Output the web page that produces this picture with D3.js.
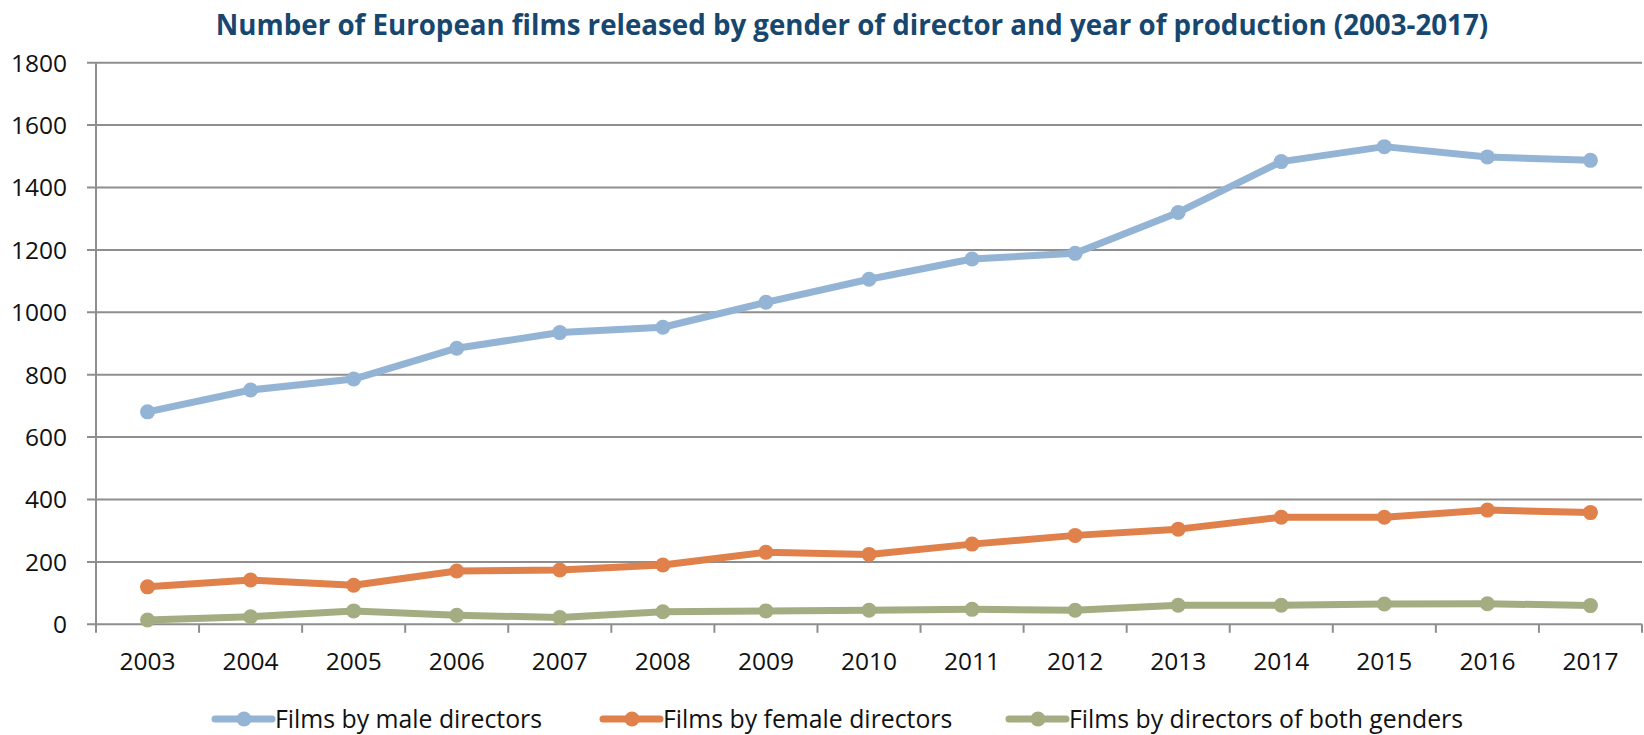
<!DOCTYPE html>
<html>
<head>
<meta charset="utf-8">
<script src="https://cdn.jsdelivr.net/npm/d3@7"></script>
<style>
  html, body { margin: 0; padding: 0; background: #fff; }
  svg { display: block; font-family: "Open Sans", "Noto Sans", sans-serif; }
</style>
</head>
<body>
<svg id="chart" width="1644" height="735"></svg>
<script>
const years = ["2003","2004","2005","2006","2007","2008","2009","2010","2011","2012","2013","2014","2015","2016","2017"];
const maleFilms   = [681, 751, 786, 885, 935, 952, 1032, 1106, 1171, 1189, 1320, 1483, 1531, 1498, 1487];
const femaleFilms = [120, 142, 125, 171, 174, 190, 231, 224, 257, 285, 305, 343, 343, 366, 358];
const bothFilms   = [14, 24, 43, 29, 22, 40, 43, 45, 48, 45, 61, 61, 65, 66, 60];
const yTicks = [0, 200, 400, 600, 800, 1000, 1200, 1400, 1600, 1800];
const seriesNames = ["Films by male directors", "Films by female directors", "Films by directors of both genders"];
const seriesColors = ["#94B4D5", "#E0804A", "#A4AC81"];
const titleText = "Number of European films released by gender of director and year of production (2003-2017)";

(function () {
const series = [maleFilms, femaleFilms, bothFilms].map((vals, i) => ({
  name: seriesNames[i], color: seriesColors[i], values: vals
}));

const svg = d3.select("#chart");
const pLeft = 96, pRight = 1642, pTop = 62.7, pBottom = 624.3;
const gridColor = "#8E8E8E";

const x = d3.scaleBand().domain(years).range([pLeft, pRight]).paddingInner(0).paddingOuter(0);
const y = d3.scaleLinear().domain([0, 1800]).range([pBottom, pTop]);

// Title
const title = svg.append("text")
  .attr("x", 852).attr("y", 35)
  .attr("text-anchor", "middle")
  .attr("font-weight", "bold")
  .attr("font-size", 28)
  .attr("fill", "#17476F")
  .text(titleText);
const tw = title.node().getComputedTextLength();
const targetW = 1273;
if (tw > 0) title.attr("font-size", 28 * targetW / tw);

// Gridlines
svg.append("g").selectAll("line").data(yTicks).join("line")
  .attr("x1", pLeft - 9).attr("x2", pRight)
  .attr("y1", d => y(d)).attr("y2", d => y(d))
  .attr("stroke", gridColor).attr("stroke-width", 2);

// Y axis labels
svg.append("g").selectAll("text").data(yTicks).join("text")
  .attr("x", 67).attr("y", d => y(d))
  .attr("dy", "0.36em")
  .attr("text-anchor", "end")
  .attr("font-size", 24.5)
  .attr("fill", "#111")
  .text(d => d);

// Y axis line
svg.append("line")
  .attr("x1", pLeft).attr("x2", pLeft)
  .attr("y1", pTop).attr("y2", pBottom + 8.5)
  .attr("stroke", gridColor).attr("stroke-width", 2);

// X ticks (band boundaries)
const boundaries = years.map(d => x(d)).concat([x(years[years.length - 1]) + x.bandwidth()]);
svg.append("g").selectAll("line").data(boundaries.slice(1)).join("line")
  .attr("x1", d => Math.min(d, 1643)).attr("x2", d => Math.min(d, 1643))
  .attr("y1", pBottom).attr("y2", pBottom + 8.5)
  .attr("stroke", gridColor).attr("stroke-width", 2);

// X labels
svg.append("g").selectAll("text").data(years).join("text")
  .attr("x", d => x(d) + x.bandwidth() / 2)
  .attr("y", 670)
  .attr("text-anchor", "middle")
  .attr("font-size", 24.5)
  .attr("fill", "#111")
  .text(d => d);

// Lines
const line = d3.line()
  .x((d, i) => x(years[i]) + x.bandwidth() / 2)
  .y(d => y(d));

const gS = svg.append("g");
series.slice().reverse().forEach(s => {
  gS.append("path")
    .attr("d", line(s.values))
    .attr("fill", "none")
    .attr("stroke", s.color)
    .attr("stroke-width", 7)
    .attr("stroke-linejoin", "round");
  gS.append("g").selectAll("circle").data(s.values).join("circle")
    .attr("cx", (d, i) => x(years[i]) + x.bandwidth() / 2)
    .attr("cy", d => y(d))
    .attr("r", 7.5)
    .attr("fill", s.color);
});

// Legend
const legendX = [215, 603, 1009];
const lg = svg.append("g");
series.forEach((s, i) => {
  const lx = legendX[i], ly = 719;
  lg.append("line")
    .attr("x1", lx).attr("x2", lx + 57)
    .attr("y1", ly).attr("y2", ly)
    .attr("stroke", s.color).attr("stroke-width", 7)
    .attr("stroke-linecap", "round");
  lg.append("circle")
    .attr("cx", lx + 29).attr("cy", ly).attr("r", 7.5)
    .attr("fill", s.color);
  lg.append("text")
    .attr("x", lx + 60).attr("y", ly)
    .attr("dy", "0.36em")
    .attr("font-size", 24.8)
    .attr("fill", "#111")
    .text(s.name);
});
})();
</script>
</body>
</html>
